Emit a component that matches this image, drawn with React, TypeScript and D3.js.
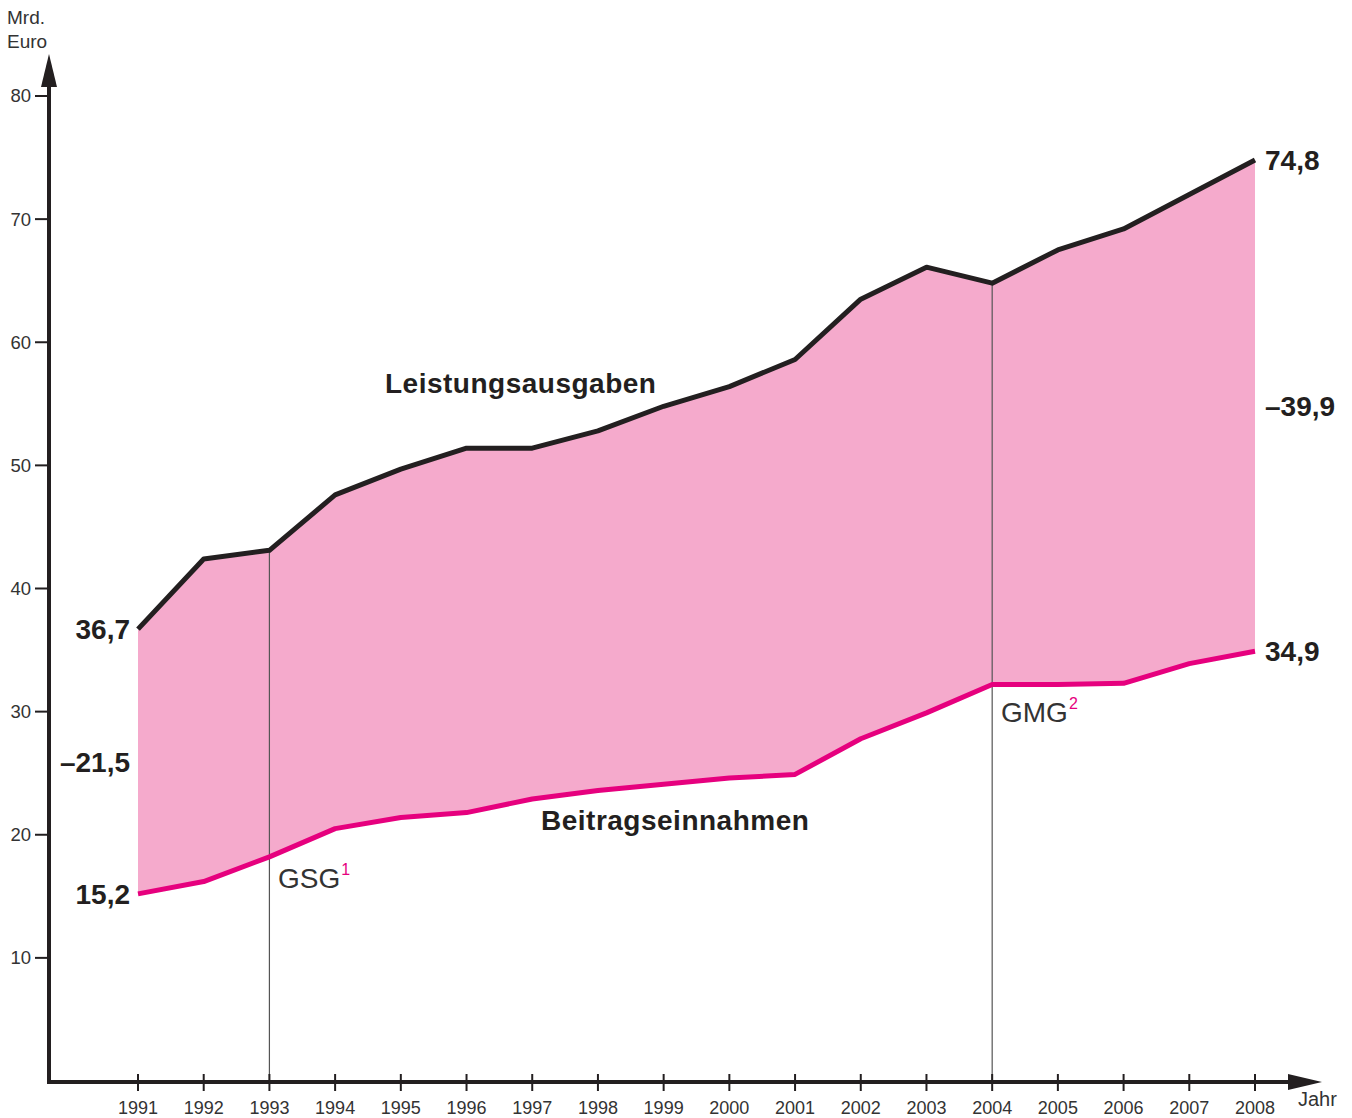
import React from "react";
import * as d3 from "d3";

// Statutory health insurance: benefit spending vs. contribution income (bn EUR)
const years = [1991, 1992, 1993, 1994, 1995, 1996, 1997, 1998, 1999, 2000, 2001, 2002, 2003, 2004, 2005, 2006, 2007, 2008];
const leistungsausgaben = [36.7, 42.4, 43.1, 47.6, 49.7, 51.4, 51.4, 52.8, 54.8, 56.4, 58.6, 63.5, 66.1, 64.8, 67.5, 69.2, 72.0, 74.8];
const beitragseinnahmen = [15.2, 16.2, 18.2, 20.5, 21.4, 21.8, 22.9, 23.6, 24.1, 24.6, 24.9, 27.8, 29.9, 32.2, 32.2, 32.3, 33.9, 34.9];
const yTicks = [10, 20, 30, 40, 50, 60, 70, 80];
const reforms = [
  { year: 1993, label: "GSG", note: "1" },
  { year: 2004, label: "GMG", note: "2" },
];

const W = 1352;
const H = 1118;
const FONT = "'Liberation Sans', Arial, Helvetica, sans-serif";
const PINK = "#e6007e";
const FILL = "#f5aacc";
const INK = "#231f20";

const fmt = (v: number) => v.toFixed(1).replace(".", ",");

export default function App() {
  const x = d3.scaleLinear().domain([1991, 2008]).range([138, 1255]);
  const y = d3.scaleLinear().domain([0, 80]).range([1081, 96]);
  const axisX = 49;
  const axisY = 1082;

  const rows = years.map((yr, i) => ({ yr, a: leistungsausgaben[i], b: beitragseinnahmen[i] }));
  const area = d3
    .area<(typeof rows)[number]>()
    .x((d) => x(d.yr))
    .y0((d) => y(d.b))
    .y1((d) => y(d.a));
  const lineA = d3.line<(typeof rows)[number]>().x((d) => x(d.yr)).y((d) => y(d.a));
  const lineB = d3.line<(typeof rows)[number]>().x((d) => x(d.yr)).y((d) => y(d.b));

  const first = rows[0];
  const last = rows[rows.length - 1];
  const gapFirst = first.b - first.a;
  const gapLast = last.b - last.a;

  return (
    <svg
      width={W}
      height={H}
      viewBox={`0 0 ${W} ${H}`}
      style={{ position: "absolute", left: 0, top: 0, background: "#fff" }}
      fontFamily={FONT}
    >
      <path d={area(rows) || ""} fill={FILL} />

      {/* reform markers */}
      {reforms.map((r) => {
        const i = years.indexOf(r.year);
        return (
          <line
            key={r.year}
            x1={x(r.year)}
            x2={x(r.year)}
            y1={y(leistungsausgaben[i])}
            y2={axisY}
            stroke="#555"
            strokeWidth={1.2}
          />
        );
      })}

      <path d={lineB(rows) || ""} fill="none" stroke={PINK} strokeWidth={5} strokeLinejoin="round" />
      <path d={lineA(rows) || ""} fill="none" stroke={INK} strokeWidth={5} strokeLinejoin="round" />

      {/* axes */}
      <line x1={axisX} x2={axisX} y1={axisY + 2} y2={80} stroke={INK} strokeWidth={4} />
      <path d={`M${axisX - 8},87 L${axisX},54 L${axisX + 8},87 Z`} fill={INK} />
      <line x1={axisX - 2} x2={1292} y1={axisY} y2={axisY} stroke={INK} strokeWidth={4} />
      <path d={`M1288,${axisY - 8} L1322,${axisY} L1288,${axisY + 8} Z`} fill={INK} />

      {yTicks.map((t) => (
        <g key={t}>
          <line x1={35} x2={axisX} y1={y(t)} y2={y(t)} stroke={INK} strokeWidth={2} />
          <text x={31} y={y(t)} dy="0.35em" textAnchor="end" fontSize={18.5} fill="#333">
            {t}
          </text>
        </g>
      ))}
      {years.map((yr) => (
        <g key={yr}>
          <line x1={x(yr)} x2={x(yr)} y1={axisY - 8} y2={axisY + 9} stroke={INK} strokeWidth={2} />
          <text x={x(yr)} y={1114} textAnchor="middle" fontSize={18} fill="#333">
            {yr}
          </text>
        </g>
      ))}

      <text x={7} y={24} fontSize={19} fill="#333">Mrd.</text>
      <text x={7} y={48} fontSize={19} fill="#333">Euro</text>
      <text x={1298} y={1106} fontSize={20} fill="#333">Jahr</text>

      {/* value labels */}
      <g fontSize={28} fontWeight="bold" fill={INK}>
        <text x={130} y={y(first.a)} dy="0.35em" textAnchor="end">{fmt(first.a)}</text>
        <text x={130} y={y(first.b)} dy="0.35em" textAnchor="end">{fmt(first.b)}</text>
        <text x={130} y={762} dy="0.35em" textAnchor="end">{"\u2013" + fmt(Math.abs(gapFirst))}</text>
        <text x={1265} y={y(last.a)} dy="0.35em">{fmt(last.a)}</text>
        <text x={1265} y={y(last.b)} dy="0.35em">{fmt(last.b)}</text>
        <text x={1265} y={406} dy="0.35em">{"\u2013" + fmt(Math.abs(gapLast))}</text>
      </g>

      <g fontSize={28} fontWeight="bold" fill={INK} letterSpacing={0.5}>
        <text x={385} y={383} dy="0.35em">Leistungsausgaben</text>
        <text x={541} y={820} dy="0.35em">Beitragseinnahmen</text>
      </g>

      {/* reform labels */}
      <text x={278} y={878} dy="0.35em" fontSize={28} fill="#333">
        GSG<tspan fill={PINK} fontSize={16} dy="-13" dx="1">1</tspan>
      </text>
      <text x={1001} y={712} dy="0.35em" fontSize={28} fill="#333">
        GMG<tspan fill={PINK} fontSize={16} dy="-13" dx="1">2</tspan>
      </text>
    </svg>
  );
}
